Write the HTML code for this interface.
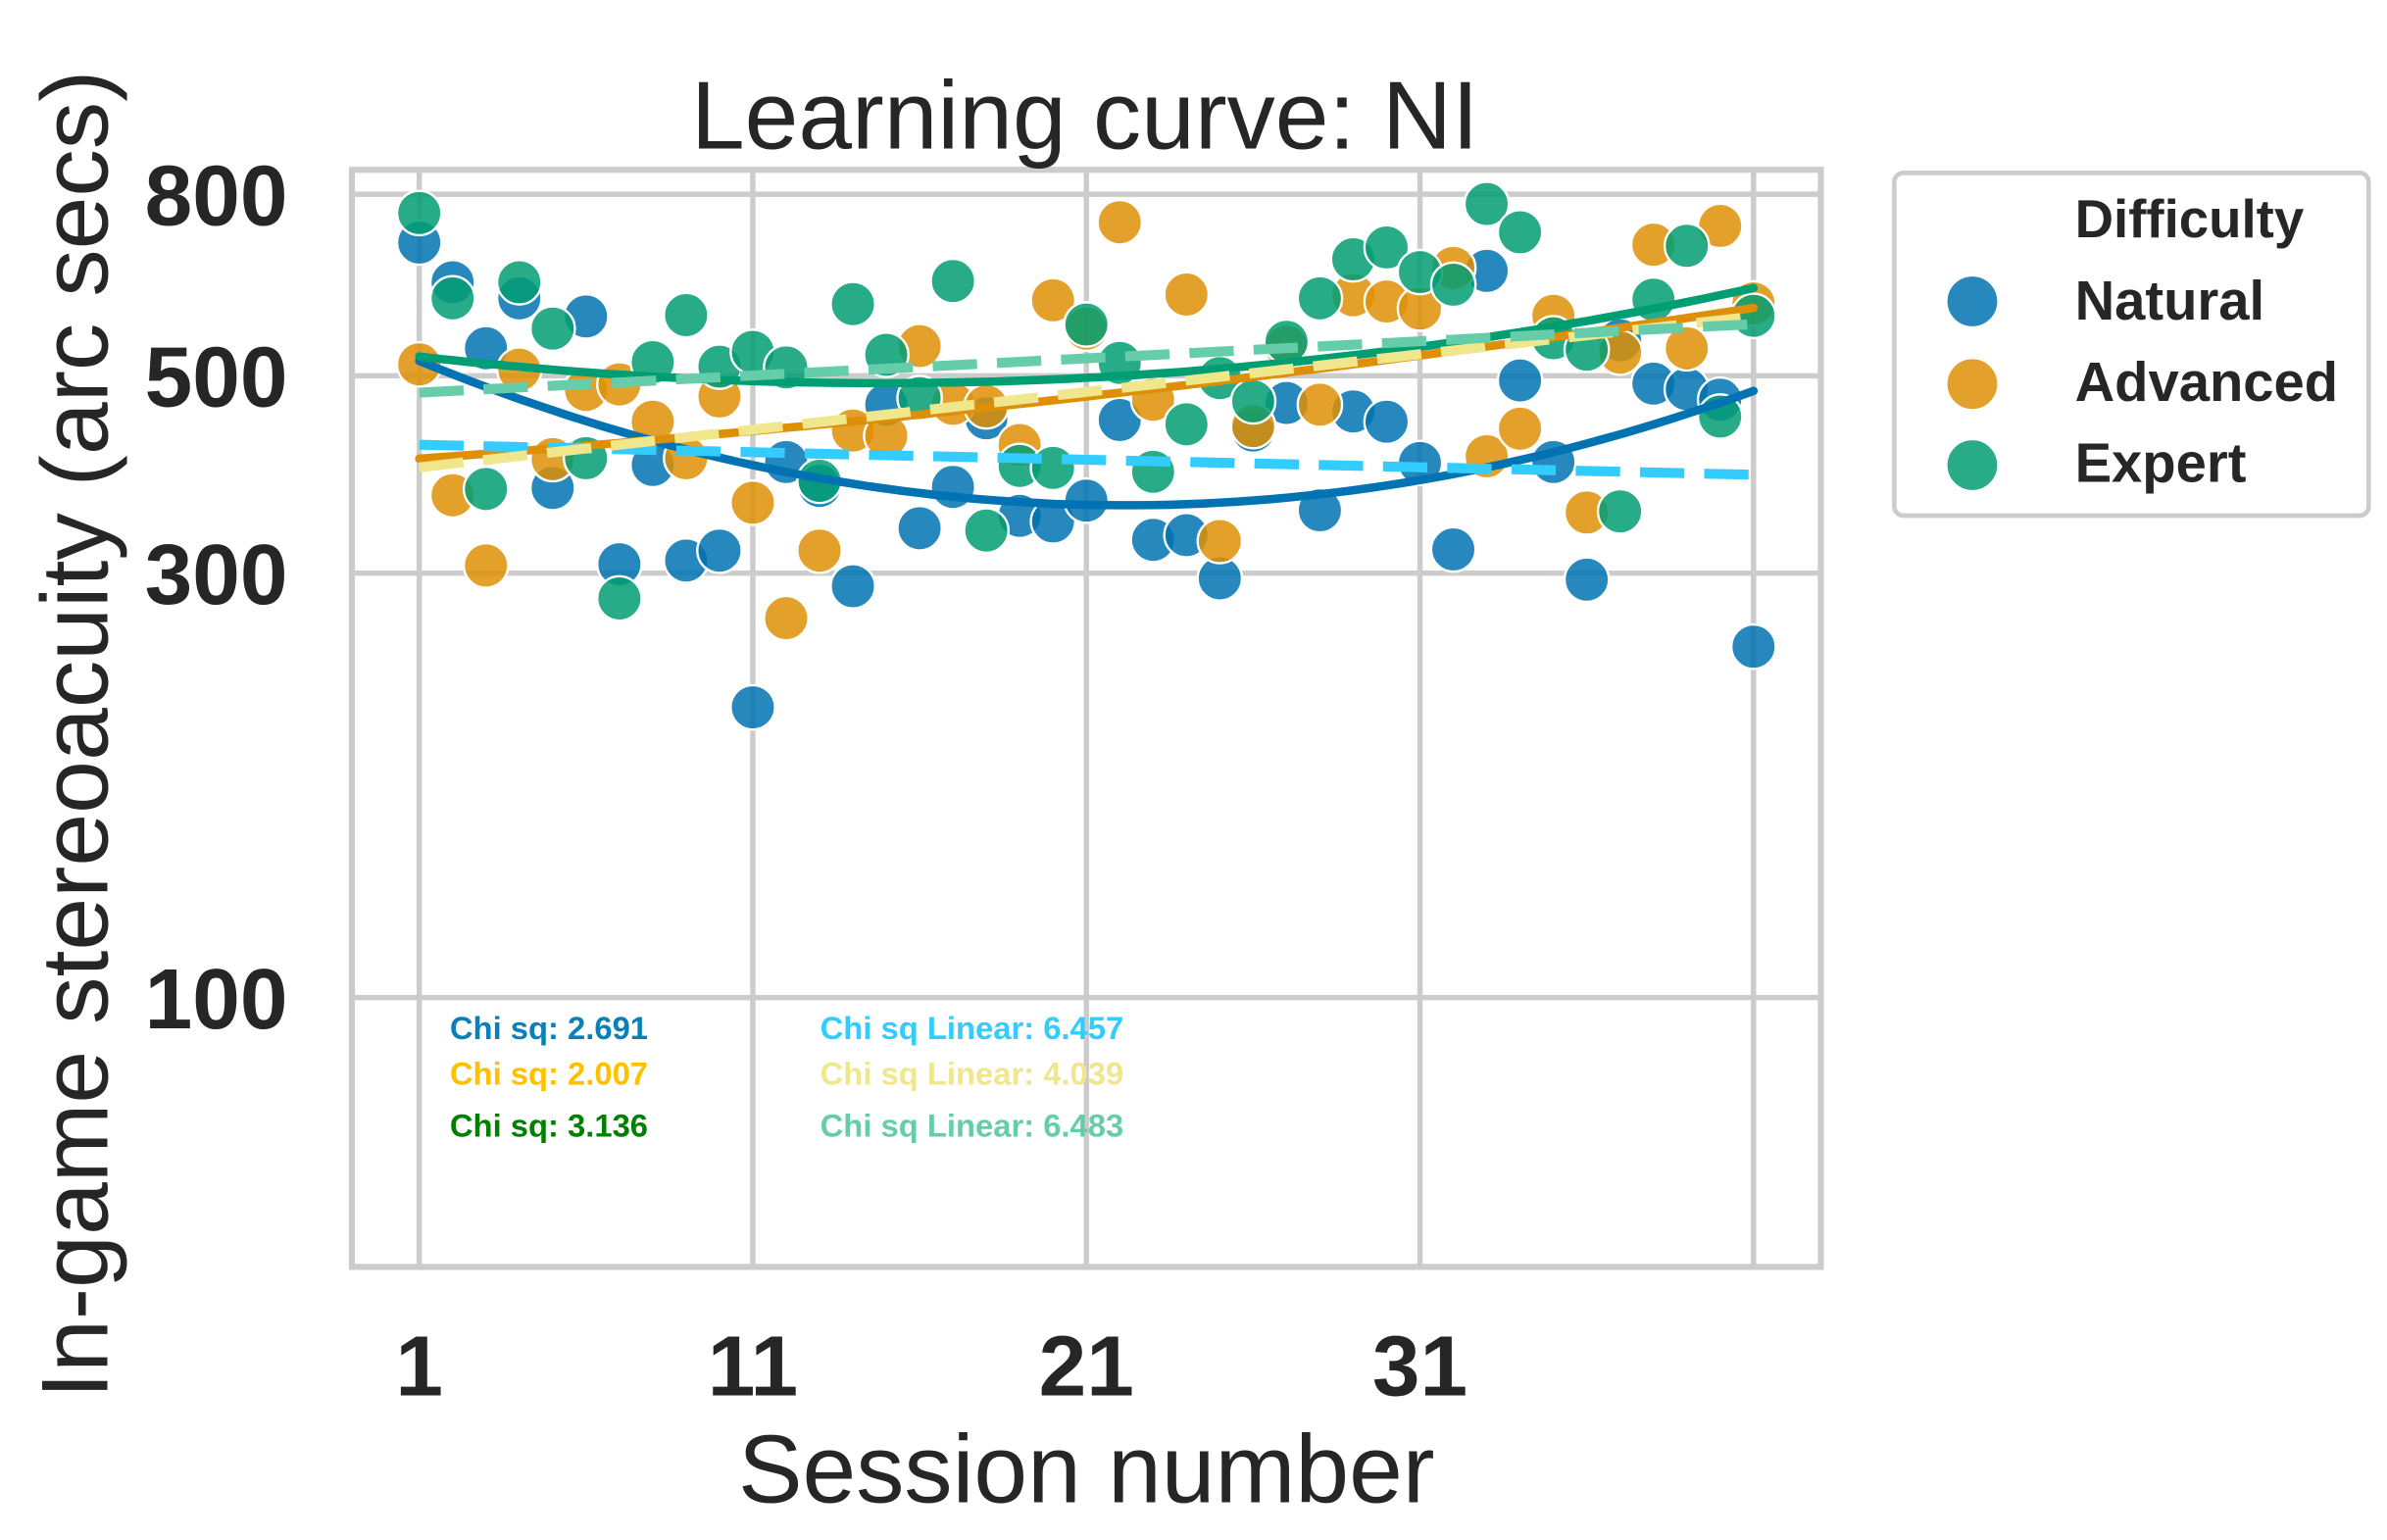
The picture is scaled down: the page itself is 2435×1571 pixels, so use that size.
<!DOCTYPE html>
<html><head><meta charset="utf-8"><style>
html,body{margin:0;padding:0;background:#fff}
svg{display:block}
text{font-family:"Liberation Sans",Arial,sans-serif;fill:#262626}
</style></head><body>
<svg id="chart" width="2435" height="1571" viewBox="0 0 1560 1006.5" preserveAspectRatio="none" xmlns="http://www.w3.org/2000/svg">
<g id="grid"></g>
<rect x="230" y="111" width="960" height="717" fill="none" stroke="#cccccc" stroke-width="4"/>
<g id="points"></g>
<g id="fits"></g>
<text x="709" y="97" font-size="63" text-anchor="middle">Learning curve: NI</text>
<text x="710" y="982" font-size="63" text-anchor="middle">Session number</text>
<text x="0" y="0" font-size="62" text-anchor="middle" transform="translate(70,480) rotate(-90)">In-game stereoacuity (arc secs)</text>
<g id="ticks"></g>
<g font-size="21" font-weight="bold">
<text x="294" y="679" style="fill:#0a80b8">Chi sq: 2.691</text>
<text x="294" y="709" style="fill:#ffc000">Chi sq: 2.007</text>
<text x="294" y="743" style="fill:#008000">Chi sq: 3.136</text>
<text x="536" y="679" style="fill:#33ccff">Chi sq Linear: 6.457</text>
<text x="536" y="709" style="fill:#f0e68c">Chi sq Linear: 4.039</text>
<text x="536" y="743" style="fill:#66cdaa">Chi sq Linear: 6.483</text>
</g>
<g>
<rect x="1238" y="113" width="310" height="224" rx="6" fill="#fff" stroke="#cccccc" stroke-width="3"/>
<text x="1356" y="155" font-size="35" font-weight="bold">Difficulty</text>
<circle cx="1289" cy="197" r="17" fill="#0173B2" fill-opacity="0.85" stroke="#fff" stroke-width="1.5"/>
<text x="1356" y="209" font-size="36" font-weight="bold">Natural</text>
<circle cx="1289" cy="251" r="17" fill="#DE8F05" fill-opacity="0.85" stroke="#fff" stroke-width="1.5"/>
<text x="1356" y="262" font-size="36" font-weight="bold">Advanced</text>
<circle cx="1289" cy="304" r="17" fill="#029E73" fill-opacity="0.85" stroke="#fff" stroke-width="1.5"/>
<text x="1356" y="315" font-size="36" font-weight="bold">Expert</text>
</g>
</svg>
<script>
const sessions = Array.from({length:41},(_,i)=>i+1);
const naturalValues = [706,637,537,611,374,583,307,397,310,318,212,400,376,290,464,337,375,448,348,343,362,446,327,331,296,434,466,353,456,444,399,319,656,494,400,295,548,490,483,470,248];
const advancedValues = [515,367,306,508,403,482,489,444,404,474,360,267,318,434,428,540,465,462,418,608,565,744,470,617,326,439,539,464,616,606,595,661,406,436,584,351,531,702,537,737,603];
const expertValues = [762,611,373,637,565,404,281,518,585,512,532,511,381,602,528,472,639,335,396,394,571,517,390,441,497,468,546,611,676,697,654,633,780,725,551,535,352,609,700,450,584];
const yTickValues = [100,300,500,800];
const xTickValues = [1,11,21,31];
const xGridValues = [1,11,21,31,41];

const NS="http://www.w3.org/2000/svg";
const xScale = s => 274 + (s-1)*(1146-274)/40;
const yScale = v => 652 - (Math.log10(v)-2)*581.4;
function mk(tag, attrs, parent){const e=document.createElementNS(NS,tag);for(const k in attrs)e.setAttribute(k,attrs[k]);parent.appendChild(e);return e;}

const grid=document.getElementById('grid'), ticks=document.getElementById('ticks');
yTickValues.forEach(v=>{
  const l=mk('line',{x1:230,x2:1190,y1:yScale(v),y2:yScale(v),stroke:'#cccccc','stroke-width':3.5},grid);
  
  
  const t=mk('text',{x:188,y:yScale(v)+20,'font-size':56,'font-weight':'bold','text-anchor':'end'},ticks);
  t.textContent=v;
  
  
});
xGridValues.forEach(s=>{
  const l=mk('line',{x1:xScale(s),x2:xScale(s),y1:111,y2:828,stroke:'#cccccc','stroke-width':3.5},grid);
  
  
});
xTickValues.forEach(s=>{
  const t=mk('text',{x:xScale(s),y:912,'font-size':56,'font-weight':'bold','text-anchor':'middle'},ticks);
  t.textContent=s;
  
  
});

const series=[
 {name:'natural',vals:naturalValues,color:'#0173B2',fit:'#0173B2',lin:'#33ccff'},
 {name:'advanced',vals:advancedValues,color:'#DE8F05',fit:'#DE8F05',lin:'#f0e68c'},
 {name:'expert',vals:expertValues,color:'#029E73',fit:'#029E73',lin:'#66cdaa'}
];
const pts=document.getElementById('points'), fits=document.getElementById('fits');
series.forEach(sr=>{
  sr.vals.forEach((v,i)=>{
    const c=mk('circle',{cx:xScale(sessions[i]),cy:yScale(v),r:14.5,fill:sr.color,'fill-opacity':0.85,stroke:'#fff','stroke-width':1.5},pts);
    
    
  });
});
function polyfit(xs,ys,deg){
  const n=deg+1, A=[...Array(n)].map(()=>Array(n+1).fill(0));
  xs.forEach((x,k)=>{for(let i=0;i<n;i++){for(let j=0;j<n;j++)A[i][j]+=Math.pow(x,i+j);A[i][n]+=ys[k]*Math.pow(x,i);}});
  for(let i=0;i<n;i++){let p=i;for(let r=i+1;r<n;r++)if(Math.abs(A[r][i])>Math.abs(A[p][i]))p=r;[A[i],A[p]]=[A[p],A[i]];
    for(let r=0;r<n;r++){if(r===i)continue;const f=A[r][i]/A[i][i];for(let c=i;c<=n;c++)A[r][c]-=f*A[i][c];}}
  return A.map((row,i)=>row[n]/row[i]);
}
const evalp=(c,x)=>c.reduce((s,ci,i)=>s+ci*Math.pow(x,i),0);
series.forEach(sr=>{
  const ly=sr.vals.map(v=>Math.log10(v));
  const q=polyfit(sessions,ly,2), l=polyfit(sessions,ly,1);
  let dq='';
  for(let s=1;s<=41;s+=0.5){const x=xScale(s);dq+=(dq?'L':'M')+x.toFixed(1)+','+yScale(Math.pow(10,evalp(q,s))).toFixed(1);}
  sr.dl='M'+xScale(1)+','+yScale(Math.pow(10,evalp(l,1)))+'L'+xScale(41)+','+yScale(Math.pow(10,evalp(l,41)));
  const p1=mk('path',{d:dq,fill:'none',stroke:sr.fit,'stroke-width':5.5,'stroke-linecap':'round'},fits);
  
  
});
series.forEach(sr=>{
  const p2=mk('path',{d:sr.dl,fill:'none',stroke:sr.lin,'stroke-width':6.5,'stroke-dasharray':'29 13'},fits);
  
  
});
</script>
</body></html>
